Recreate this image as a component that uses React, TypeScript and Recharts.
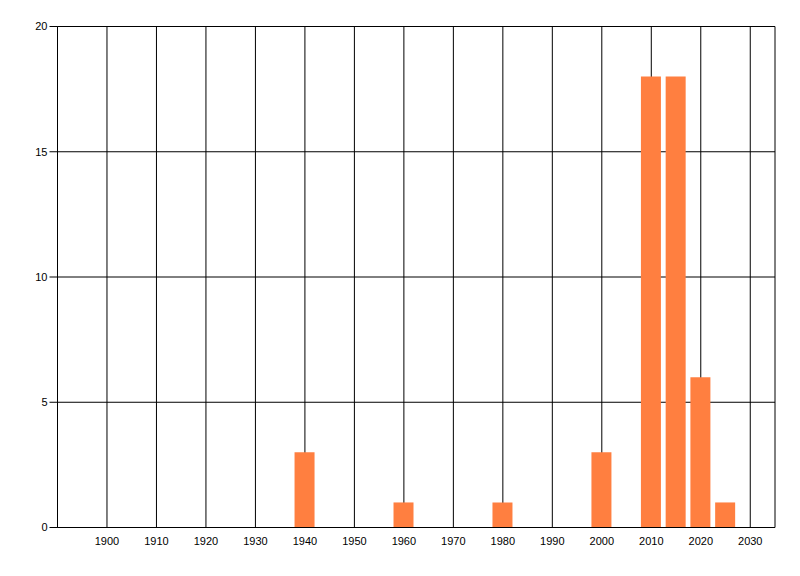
import { BarChart, Bar, XAxis, YAxis, CartesianGrid } from 'recharts';

const years = [1940, 1960, 1980, 2000, 2010, 2015, 2020, 2025];
const counts = [3, 1, 1, 3, 18, 18, 6, 1];
const xTicks = [1900, 1910, 1920, 1930, 1940, 1950, 1960, 1970, 1980, 1990, 2000, 2010, 2020, 2030];
const yTicks = [0, 5, 10, 15, 20];

const data = years.map((year, i) => ({ year, count: counts[i] }));

const tickStyle = { fill: '#000', fontSize: 11, fontFamily: '"Liberation Sans", Arial, sans-serif' };

export default function App() {
  return (
    <div style={{ position: 'absolute', left: 0, top: 0, background: '#fff' }}>
      <BarChart
        width={800}
        height={576}
        data={data}
        margin={{ top: 26.5, right: 25, left: 0, bottom: 0 }}
      >
        <CartesianGrid stroke="#000" strokeWidth={1} />
        <XAxis
          dataKey="year"
          type="number"
          domain={[1890, 2035]}
          ticks={xTicks}
          allowDataOverflow
          height={48.5}
          tickLine={false}
          tickSize={6}
          tickMargin={4}
          axisLine={{ stroke: '#000' }}
          tick={tickStyle}
          interval={0}
        />
        <YAxis
          type="number"
          domain={[0, 20]}
          ticks={yTicks}
          width={57.5}
          tickSize={8}
          tickMargin={2}
          tickLine={{ stroke: '#000' }}
          axisLine={{ stroke: '#000' }}
          tick={tickStyle}
        />
        <Bar dataKey="count" fill="#ff7f40" barSize={20} isAnimationActive={false} />
      </BarChart>
    </div>
  );
}
